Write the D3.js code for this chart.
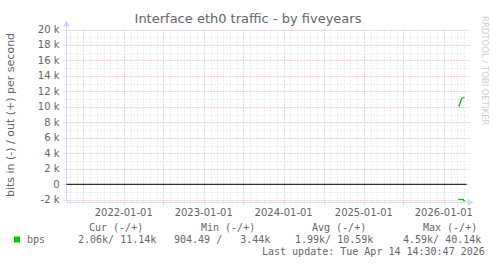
<!DOCTYPE html>
<html>
<head>
<meta charset="utf-8">
<script src="https://cdn.jsdelivr.net/npm/d3@7"></script>
<style>
  body { margin: 0; background: #ffffff; }
  text { font-family: "DejaVu Sans", sans-serif; fill: #666666; }
  .mono { font-family: "DejaVu Sans Mono", monospace; white-space: pre; }
</style>
</head>
<body>
<div id="main"></div>
<script>
// munin style rrd graph, eth0 traffic, five years window
const title = 'Interface eth0 traffic - by fiveyears';
const yLabel = 'bits in (-) / out (+) per second';
const yTicks = [-2000, 0, 2000, 4000, 6000, 8000, 10000, 12000, 14000, 16000, 18000, 20000];
const yearLabels = ['2022-01-01', '2023-01-01', '2024-01-01', '2025-01-01', '2026-01-01'];

// out (+) series
const outDates = ['2026-03-08', '2026-03-12', '2026-03-24', '2026-04-06'];
const outValues = [10150, 10150, 11100, 11250];
// in (-) series, drawn below zero
const inDates = ['2026-03-08', '2026-03-31', '2026-04-01', '2026-04-08'];
const inValues = [1950, 1950, 2100, 2100];

const legendHeaders = ['Cur (-/+)', 'Min (-/+)', 'Avg (-/+)', 'Max (-/+)'];
const legendValues = ['2.06k/ 11.14k', '904.49 /   3.44k', '1.99k/ 10.59k', '4.59k/ 40.14k'];
const lastUpdate = 'Last update: Tue Apr 14 14:30:47 2026';

const width = 497, height = 264;
const pLeft = 66.5, pRight = 466.5, pTop = 29.5, pBottom = 202.3;

const svg = d3.select('#main').append('svg')
  .attr('width', width)
  .attr('height', height);

const parse = d3.utcParse('%Y-%m-%d');
const tStart = new Date(Date.UTC(2021, 3, 14, 14, 30));
const tEnd = new Date(Date.UTC(2026, 3, 14, 14, 30));

const xScale = d3.scaleUtc().domain([tStart, tEnd]).range([pLeft, pRight]);
const yScale = d3.scaleLinear().domain([-2325, 20000]).range([pBottom, pTop]);

// minor grid
const months = d3.utcMonth.range(tStart, tEnd);
svg.append('g').selectAll('line')
  .data(months)
  .join('line')
    .attr('x1', d => Math.round(xScale(d)) + 0.5)
    .attr('x2', d => Math.round(xScale(d)) + 0.5)
    .attr('y1', pTop)
    .attr('y2', pBottom + 2)
    .attr('stroke', '#dddddd')
    .attr('stroke-dasharray', '1,2');

const minorY = d3.range(-2000, 20001, 1000);
svg.append('g').selectAll('line')
  .data(minorY)
  .join('line')
    .attr('x1', pLeft - 2)
    .attr('x2', pRight + 2)
    .attr('y1', d => Math.round(yScale(d)) + 0.5)
    .attr('y2', d => Math.round(yScale(d)) + 0.5)
    .attr('stroke', '#dddddd')
    .attr('stroke-dasharray', '1,2');

// major grid
const halfYears = d3.utcMonth.every(6).range(tStart, tEnd);
svg.append('g').selectAll('line')
  .data(halfYears)
  .join('line')
    .attr('x1', d => Math.round(xScale(d)) + 0.5)
    .attr('x2', d => Math.round(xScale(d)) + 0.5)
    .attr('y1', pTop)
    .attr('y2', pBottom + 3)
    .attr('stroke', '#f2b8b8')
    .attr('stroke-dasharray', '1,2');

svg.append('g').selectAll('line')
  .data(yTicks)
  .join('line')
    .attr('x1', pLeft - 3)
    .attr('x2', pRight + 3)
    .attr('y1', d => Math.round(yScale(d)) + 0.5)
    .attr('y2', d => Math.round(yScale(d)) + 0.5)
    .attr('stroke', '#f2b8b8')
    .attr('stroke-dasharray', '1,2');

// axes with arrows
svg.append('line')
  .attr('x1', pLeft).attr('x2', pRight + 4)
  .attr('y1', pBottom).attr('y2', pBottom)
  .attr('stroke', '#cfd6f8');
svg.append('line')
  .attr('x1', pLeft).attr('x2', pLeft)
  .attr('y1', pBottom).attr('y2', pTop - 6)
  .attr('stroke', '#cfd6f8');
svg.append('path')
  .attr('d', `M${pRight + 7},${pBottom} L${pRight + 1},${pBottom - 3.5} L${pRight + 1},${pBottom + 3.5} Z`)
  .attr('fill', '#cfd6f8');
svg.append('path')
  .attr('d', `M${pLeft},${pTop - 9} L${pLeft - 3.5},${pTop - 3} L${pLeft + 3.5},${pTop - 3} Z`)
  .attr('fill', '#cfd6f8');

// zero line
svg.append('line')
  .attr('x1', pLeft).attr('x2', pRight)
  .attr('y1', yScale(0)).attr('y2', yScale(0))
  .attr('stroke', '#000000')
  .attr('stroke-width', 1);

// y tick labels
svg.append('g').selectAll('text')
  .data(yTicks)
  .join('text')
    .attr('x', pLeft - 7)
    .attr('y', d => yScale(d) + 3.5)
    .attr('text-anchor', 'end')
    .attr('font-size', 10)
    .text(d => d === 0 ? '0' : (d / 1000) + ' k');

// x labels
svg.append('g').selectAll('text')
  .data(yearLabels)
  .join('text')
    .attr('x', d => xScale(parse(d)))
    .attr('y', 216)
    .attr('text-anchor', 'middle')
    .attr('font-size', 10)
    .text(d => d);

// series
const line = d3.line()
  .x(d => xScale(d.date))
  .y(d => yScale(d.value));

const outData = outDates.map((d, i) => ({ date: parse(d), value: outValues[i] }));
const inData = inDates.map((d, i) => ({ date: parse(d), value: -inValues[i] }));

[outData, inData].forEach(data => {
  svg.append('path')
    .datum(data)
    .attr('d', line)
    .attr('fill', 'none')
    .attr('stroke', '#00cc00')
    .attr('stroke-width', 1.3);
});

// title and labels
svg.append('text')
  .attr('x', 248)
  .attr('y', 23)
  .attr('text-anchor', 'middle')
  .attr('font-size', 13)
  .text(title);

svg.append('text')
  .attr('transform', 'translate(14,115) rotate(-90)')
  .attr('text-anchor', 'middle')
  .attr('font-size', 11)
  .text(yLabel);

svg.append('text')
  .attr('transform', 'translate(482,16) rotate(90)')
  .attr('font-size', 8.5)
  .style('fill', '#d0d0d0')
  .text('RRDTOOL / TOBI OETIKER');

// legend
const headerX = [89, 201, 312, 423];
const valueX = [78, 174, 295, 403];
svg.append('g').selectAll('text')
  .data(legendHeaders)
  .join('text')
    .attr('class', 'mono')
    .attr('x', (d, i) => headerX[i])
    .attr('y', 231)
    .attr('font-size', 10)
    .text(d => d);

svg.append('rect')
  .attr('x', 14).attr('y', 236.5)
  .attr('width', 6).attr('height', 6)
  .attr('fill', '#00cc00');
svg.append('text')
  .attr('class', 'mono')
  .attr('x', 27).attr('y', 243)
  .attr('font-size', 10)
  .text('bps');

svg.append('g').selectAll('text')
  .data(legendValues)
  .join('text')
    .attr('class', 'mono')
    .attr('x', (d, i) => valueX[i])
    .attr('y', 243)
    .attr('font-size', 10)
    .text(d => d);

svg.append('text')
  .attr('class', 'mono')
  .attr('x', 262).attr('y', 255)
  .attr('font-size', 10)
  .text(lastUpdate);
</script>
</body>
</html>
